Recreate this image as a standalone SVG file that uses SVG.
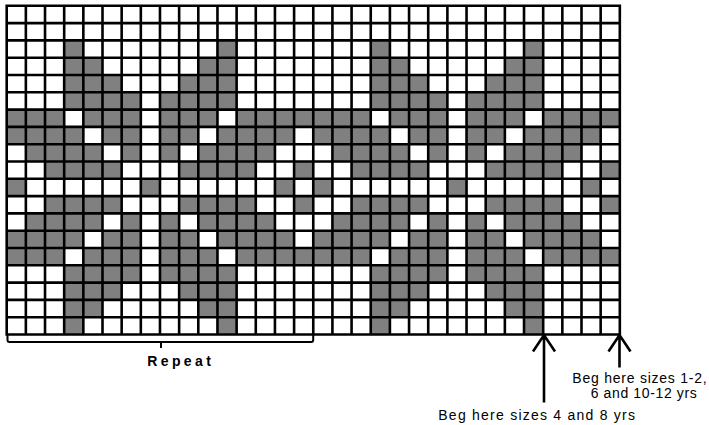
<svg xmlns="http://www.w3.org/2000/svg" xmlns:xlink="http://www.w3.org/1999/xlink" width="709" height="425" viewBox="0 0 709 425">
<style>
  .grid { fill: none; stroke: #000; stroke-width: 2.6; stroke-linecap: square; }
  .conn { fill: none; stroke: #000; stroke-width: 2.6; }
  .brk { fill: none; stroke: #000; stroke-width: 2; }
  .lbl { font-family: "Liberation Sans", Arial, sans-serif; font-size: 14px; fill: #000; }
  .bold { font-weight: bold; }
</style>
<defs>
  <g id="rep">
    <rect x="3" y="2" width="1" height="1"/><rect x="11" y="2" width="1" height="1"/>
    <rect x="3" y="3" width="2" height="1"/><rect x="10" y="3" width="2" height="1"/>
    <rect x="3" y="4" width="3" height="1"/><rect x="9" y="4" width="3" height="1"/>
    <rect x="3" y="5" width="4" height="1"/><rect x="8" y="5" width="4" height="1"/>
    <rect x="0" y="6" width="3" height="1"/><rect x="4" y="6" width="3" height="1"/><rect x="8" y="6" width="3" height="1"/><rect x="12" y="6" width="4" height="1"/>
    <rect x="0" y="7" width="4" height="1"/><rect x="5" y="7" width="2" height="1"/><rect x="8" y="7" width="2" height="1"/><rect x="11" y="7" width="4" height="1"/>
    <rect x="1" y="8" width="4" height="1"/><rect x="6" y="8" width="1" height="1"/><rect x="8" y="8" width="1" height="1"/><rect x="10" y="8" width="4" height="1"/>
    <rect x="2" y="9" width="4" height="1"/><rect x="9" y="9" width="4" height="1"/><rect x="15" y="9" width="1" height="1"/>
    <rect x="0" y="10" width="1" height="1"/><rect x="7" y="10" width="1" height="1"/><rect x="14" y="10" width="1" height="1"/>
    <rect x="2" y="11" width="4" height="1"/><rect x="9" y="11" width="4" height="1"/><rect x="15" y="11" width="1" height="1"/>
    <rect x="1" y="12" width="4" height="1"/><rect x="6" y="12" width="1" height="1"/><rect x="8" y="12" width="1" height="1"/><rect x="10" y="12" width="4" height="1"/>
    <rect x="0" y="13" width="4" height="1"/><rect x="5" y="13" width="2" height="1"/><rect x="8" y="13" width="2" height="1"/><rect x="11" y="13" width="4" height="1"/>
    <rect x="0" y="14" width="3" height="1"/><rect x="4" y="14" width="3" height="1"/><rect x="8" y="14" width="3" height="1"/><rect x="12" y="14" width="4" height="1"/>
    <rect x="3" y="15" width="4" height="1"/><rect x="8" y="15" width="4" height="1"/>
    <rect x="3" y="16" width="3" height="1"/><rect x="9" y="16" width="3" height="1"/>
    <rect x="3" y="17" width="2" height="1"/><rect x="10" y="17" width="2" height="1"/>
    <rect x="3" y="18" width="1" height="1"/><rect x="11" y="18" width="1" height="1"/>
  </g>
</defs>
<rect x="0" y="0" width="709" height="425" fill="#fff"/>
<g id="chart">
  <g id="cells" transform="translate(6.7,5.8) scale(19.16,17.3)" fill="#808080">
    <use href="#rep" xlink:href="#rep"/>
    <use href="#rep" xlink:href="#rep" x="16"/>
  </g>
  <path id="gridlines" class="grid" d="M6.7 5.8V334.5M25.86 5.8V334.5M45.02 5.8V334.5M64.18 5.8V334.5M83.34 5.8V334.5M102.5 5.8V334.5M121.66 5.8V334.5M140.82 5.8V334.5M159.98 5.8V334.5M179.14 5.8V334.5M198.3 5.8V334.5M217.46 5.8V334.5M236.62 5.8V334.5M255.78 5.8V334.5M274.94 5.8V334.5M294.1 5.8V334.5M313.26 5.8V334.5M332.42 5.8V334.5M351.58 5.8V334.5M370.74 5.8V334.5M389.9 5.8V334.5M409.06 5.8V334.5M428.22 5.8V334.5M447.38 5.8V334.5M466.54 5.8V334.5M485.7 5.8V334.5M504.86 5.8V334.5M524.02 5.8V334.5M543.18 5.8V334.5M562.34 5.8V334.5M581.5 5.8V334.5M600.66 5.8V334.5M619.82 5.8V334.5M6.7 5.8H619.82M6.7 23.1H619.82M6.7 40.4H619.82M6.7 57.7H619.82M6.7 75H619.82M6.7 92.3H619.82M6.7 109.6H619.82M6.7 126.9H619.82M6.7 144.2H619.82M6.7 161.5H619.82M6.7 178.8H619.82M6.7 196.1H619.82M6.7 213.4H619.82M6.7 230.7H619.82M6.7 248H619.82M6.7 265.3H619.82M6.7 282.6H619.82M6.7 299.9H619.82M6.7 317.2H619.82M6.7 334.5H619.82"/>
</g>
<g id="connectors">
  <path id="repeat-bracket" class="brk" d="M7.5 334.5V340Q7.5 342 9.5 342H311.2Q313.2 342 313.2 340V334.5M161 342V348"/>
  <path id="arrow-4-8" class="conn" d="M544 335.5V402.5M533 351.5L544 335L555 351.5"/>
  <path id="arrow-1-2" class="conn" d="M619.5 335.5V367.5M608.5 351.5L619.5 335L630.5 351.5"/>
</g>
<g id="labels">
  <text class="lbl bold" x="147.3" y="366" textLength="63.5" lengthAdjust="spacing">Repeat</text>
  <text class="lbl" x="572.3" y="382.7" textLength="134.4" lengthAdjust="spacing">Beg here sizes 1-2,</text>
  <text class="lbl" x="590.7" y="397.7" textLength="106" lengthAdjust="spacing">6 and 10-12 yrs</text>
  <text class="lbl" x="438.3" y="420" textLength="196.7" lengthAdjust="spacing">Beg here sizes 4 and 8 yrs</text>
</g>
</svg>
